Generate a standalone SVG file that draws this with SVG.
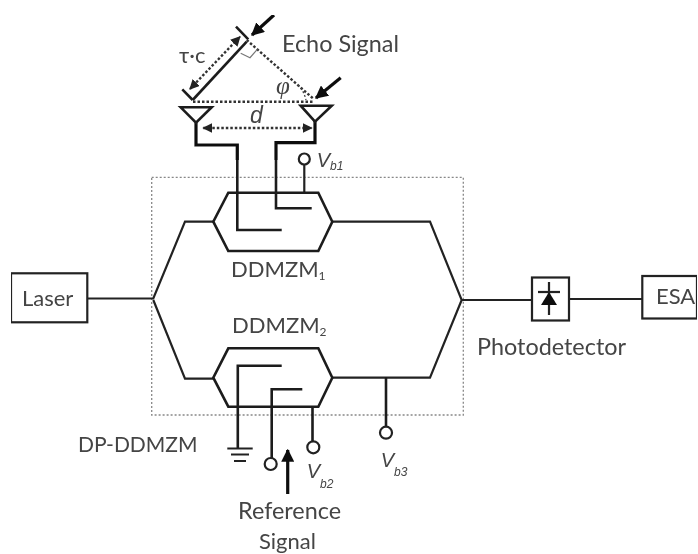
<svg xmlns="http://www.w3.org/2000/svg" width="698" height="554" viewBox="0 0 698 554">
<style>
.l{fill:none;stroke:#222;stroke-width:2.2;stroke-linejoin:miter}
.m{fill:none;stroke:#1c1c1c;stroke-width:2.6}
.t{fill:none;stroke:#111;stroke-width:3.2}
.d{fill:none;stroke:#333;stroke-width:2.4;stroke-dasharray:2.5 2}
.b{fill:none;stroke:#888;stroke-width:1.3;stroke-dasharray:2 2}
.c{fill:#fff;stroke:#222;stroke-width:2.2}
text{font-family:"Lato","Liberation Sans",sans-serif;font-size:22px;fill:#444}
.w{font-size:23.4px}
.i{font-style:italic;font-family:"Liberation Sans",sans-serif;font-size:20px}
.s{font-size:12px}
</style>
<defs>
<filter id="soft" x="0" y="0" width="100%" height="100%"><feGaussianBlur stdDeviation="0.45"/></filter>
<marker id="a" viewBox="0 0 10 10" refX="9" refY="5" markerWidth="10" markerHeight="10" markerUnits="userSpaceOnUse" orient="auto-start-reverse"><path d="M0 0L10 5L0 10Z" fill="#222"/></marker>
<marker id="h" viewBox="0 0 10 10" refX="9" refY="5" markerWidth="13" markerHeight="13" markerUnits="userSpaceOnUse" orient="auto"><path d="M0 0L10 5L0 10Z" fill="#111"/></marker>
</defs>
<rect width="698" height="554" fill="#fff"/>
<g filter="url(#soft)">
<g id="frame"><rect class="b" x="151.7" y="177.3" width="311.6" height="237.7"/></g>
<g id="connectors">
<path class="l" d="M87 298.5H153.3L185 221.7H213.3"/>
<path class="l" d="M153.3 300L185 378.7H213.3"/>
<path class="l" d="M332.3 221.7H430L461.7 300L430 377.7H332.3"/>
<path class="l" d="M461.7 300H532"/>
<path class="l" d="M569 299H642.3"/>
<path class="t" d="M196 122.7V145H237.3V160M315 121V142.7H276V160"/>
<path class="m" d="M237.3 160V230H281.7"/>
<path class="m" d="M276 160V208.3H311.7"/>
<path class="l" d="M304.3 165V192.7"/>
<path class="m" d="M281.7 365.7H237.8V448"/>
<path class="m" d="M302.3 389.3H271.7V458"/>
<path class="m" d="M312.5 406.7V441"/>
<path class="m" d="M386 377.7V427"/>
</g>
<g id="geometry">
<path class="m" d="M192.7 100L246.7 41.7"/>
<path class="m" d="M182.3 89.3L192.7 100M236 26.7L248.3 39.3"/>
<path class="d" d="M246.7 40L314 99.3"/>
<path class="d" d="M193 101.7H314"/>
<path class="d" d="M190 89L240 36.7" marker-start="url(#a)" marker-end="url(#a)"/>
<path class="d" d="M203.3 128H311.7" marker-start="url(#a)" marker-end="url(#a)"/>
<path fill="none" stroke="#777" stroke-width="1.2" d="M240.7 53.3L250 57.7L257.3 49.3"/>
<path class="b" style="stroke:#444" d="M298 85Q304 91 306 100"/>
<path class="t" d="M274 15L252 35" marker-end="url(#h)"/>
<path class="t" d="M340.7 77.7L316 98" marker-end="url(#h)"/>
</g>
<g id="antenna-left"><path class="m" d="M180.7 107.3H211.7L196 122.7Z"/></g>
<g id="antenna-right"><path class="m" d="M300.7 105.7H331.7L315 121.7Z"/></g>
<g id="ddmzm1"><path class="m" d="M228.3 192.7H318.3L332.3 221.7L318.3 251H228.3L213.3 221.7Z"/><text x="231" y="277">DDMZM<tspan class="s" dy="3">1</tspan></text></g>
<g id="ddmzm2"><path class="m" d="M228.3 348.3H318.3L332.3 377.7L318.3 406.7H228.3L213.3 377.7Z"/><text x="232" y="333">DDMZM<tspan class="s" dy="3">2</tspan></text></g>
<g id="laser"><rect class="l" x="11" y="273.3" width="76.3" height="49"/><text x="22" y="306">Laser</text></g>
<g id="photodetector"><rect class="l" x="532" y="277.5" width="37" height="43"/><path d="M549 282V315" class="l"/><path d="M538 292H560" class="l"/><path d="M549 292L557 305H541Z" fill="#111"/><text class="w" x="477" y="355">Photodetector</text></g>
<g id="esa"><rect class="l" x="642.3" y="276" width="54.7" height="42.5"/><text x="656" y="304">ESA</text></g>
<g id="vb1"><circle class="c" cx="304.3" cy="159" r="5.5"/><text class="i" x="316.7" y="167">V<tspan class="s" dy="3">b1</tspan></text></g>
<g id="vb2"><circle class="c" cx="313.3" cy="447.3" r="6"/><text class="i" x="306.7" y="478">V<tspan class="s" dy="10">b2</tspan></text></g>
<g id="vb3"><circle class="c" cx="386" cy="432.7" r="6"/><text class="i" x="380.7" y="466.7">V<tspan class="s" dy="9">b3</tspan></text></g>
<g id="ref-port"><circle class="c" cx="270.7" cy="464" r="6"/></g>
<g id="ground"><path class="l" d="M227.3 448.5H252.7M231 454.5H249M234 461H246"/></g>
<g id="reference"><path class="t" d="M287.7 494V450" marker-end="url(#h)"/><text class="w" x="238" y="519">Reference</text><text x="259" y="549">Signal</text></g>
<text class="w" x="282" y="52">Echo Signal</text>
<text x="179" y="63">τ·c</text>
<text x="276" y="94" style="font-family:'Liberation Serif',serif;font-style:italic;font-size:25px">φ</text>
<text class="i" x="250" y="123" style="font-size:23px">d</text>
<text x="78" y="452" style="font-size:21px">DP-DDMZM</text>
</g>
</svg>
